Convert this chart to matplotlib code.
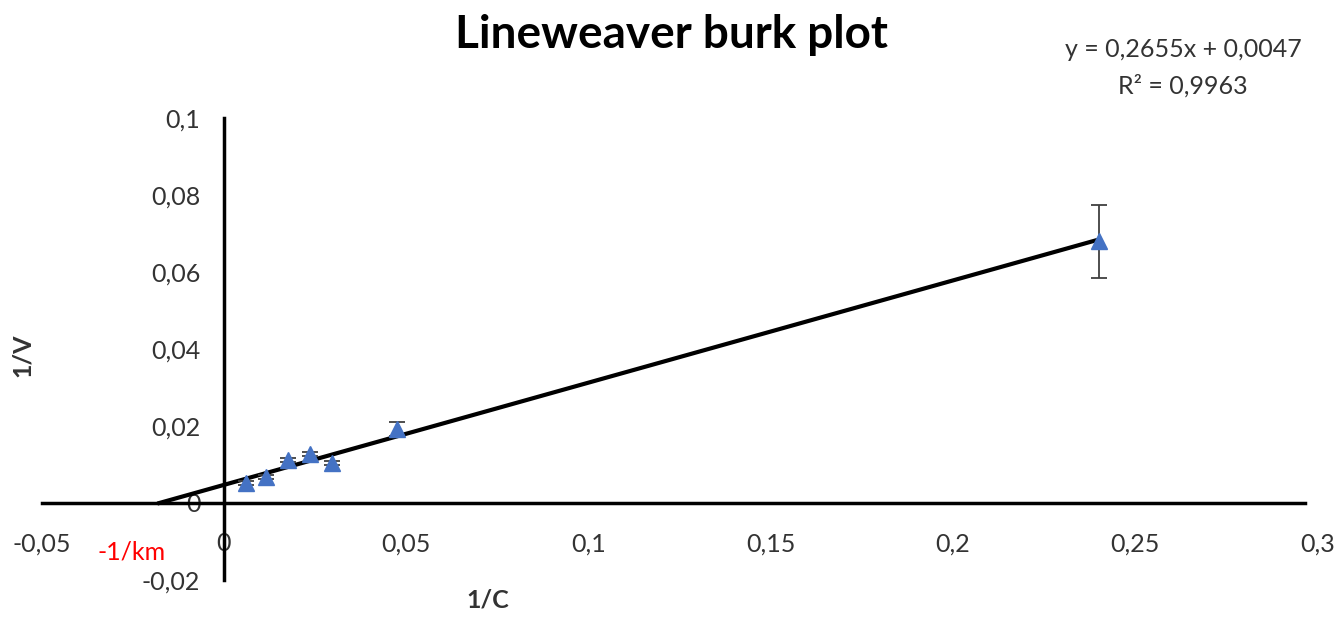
import numpy as np
import matplotlib.pyplot as plt
from matplotlib.ticker import FixedLocator, FixedFormatter

plt.rcParams['font.family'] = ['Lato', 'DejaVu Sans']

# data
inv_c = [0.006, 0.0115, 0.0175, 0.0236, 0.0296, 0.0474, 0.24]
inv_v = [0.0052, 0.0068, 0.0112, 0.0127, 0.0104, 0.0192, 0.068]
err = [0.0004, 0.0005, 0.0006, 0.0006, 0.0005, 0.0018, 0.0095]

slope = 0.2655
intercept = 0.0047

xticks = [-0.05, 0, 0.05, 0.1, 0.15, 0.2, 0.25, 0.3]
xlabels = ['-0,05', '0', '0,05', '0,1', '0,15', '0,2', '0,25', '0,3']
yticks = [-0.02, 0, 0.02, 0.04, 0.06, 0.08, 0.1]
ylabels = ['-0,02', '0', '0,02', '0,04', '0,06', '0,08', '0,1']

fig = plt.figure(figsize=(13.43, 6.24), dpi=100)
ax = fig.add_axes([0.031, 0.0705, 0.950, 0.7405])

# trendline, extended back to the x intercept
x0 = -intercept / slope
xs = np.array([x0, max(inv_c)])
ax.plot(xs, slope * xs + intercept, color='black', lw=3, zorder=3)

ax.errorbar(inv_c, inv_v, yerr=err, fmt='^', color='#4472C4', ms=11,
            ecolor='#404040', elinewidth=1.3, capsize=6, capthick=1.3, zorder=4)

ax.set_xlim(-0.05, 0.3)
ax.set_ylim(-0.02, 0.1)

for s in ['top', 'right']:
    ax.spines[s].set_visible(False)
ax.spines['left'].set_position(('data', 0))
ax.spines['bottom'].set_position(('data', 0))
ax.spines['left'].set_linewidth(2.5)
ax.spines['bottom'].set_linewidth(2.5)
ax.spines['bottom'].set_bounds(-0.05, 0.2965)

ax.xaxis.set_major_locator(FixedLocator(xticks))
ax.xaxis.set_major_formatter(FixedFormatter(xlabels))
ax.yaxis.set_major_locator(FixedLocator(yticks))
ax.yaxis.set_major_formatter(FixedFormatter(ylabels))
ax.tick_params(axis='x', length=0, pad=21, labelsize=18, labelcolor='#333333')
ax.tick_params(axis='y', length=0, pad=17, labelsize=18, labelcolor='#333333')

ax.text(-0.0252, -0.0127, '-1/km', color='red', fontsize=18, ha='center', va='center')

fig.text(0.5, 0.944, 'Lineweaver burk plot', fontsize=33, fontweight='bold',
         ha='center', va='center')
fig.text(0.881, 0.92, 'y = 0,2655x + 0,0047', fontsize=18, ha='center', va='center', color='#333333')
fig.text(0.881, 0.862, 'R² = 0,9963', fontsize=18, ha='center', va='center', color='#333333')
fig.text(0.0164, 0.431, '1/V', fontsize=18, fontweight='bold', rotation=90,
         ha='center', va='center', color='#333333')
fig.text(0.363, 0.038, '1/C', fontsize=18, fontweight='bold', ha='center', va='center',
         color='#333333')

fig.savefig('out.png', dpi=100)
